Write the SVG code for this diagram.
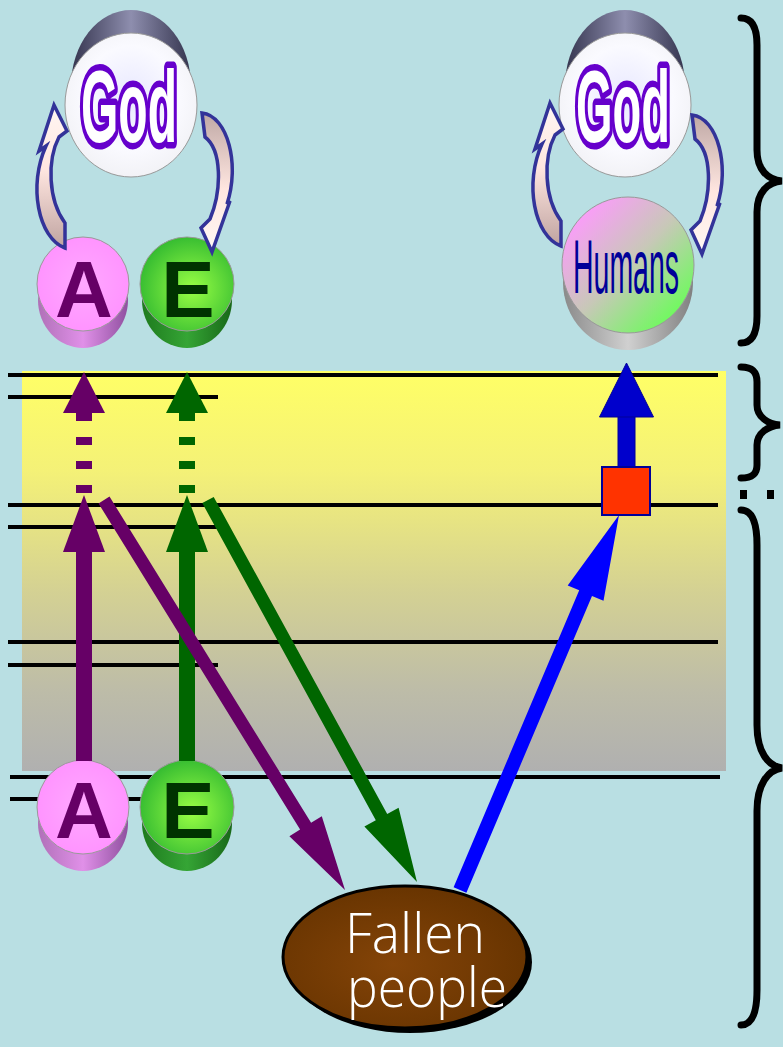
<svg xmlns="http://www.w3.org/2000/svg" width="783" height="1047" viewBox="0 0 783 1047">
<defs>
<style>
.staff{stroke:#000;stroke-width:4;fill:none}
.pur{fill:#660066}
.grn{fill:#006600}
.blu{fill:#0000FF}
.bluv{fill:#0000CC;stroke:#000099;stroke-width:1}
.cyc{stroke:#333399;stroke-width:3.5;stroke-linejoin:miter}
.god{font-family:"Liberation Sans Narrow","Liberation Sans",sans-serif;font-weight:bold;font-size:102px;fill:#fff;stroke:#6600CC;stroke-width:13;paint-order:stroke;stroke-linejoin:round}
.letter{font-family:"Liberation Sans",Arial,sans-serif;font-weight:bold;font-size:80px;text-anchor:middle}
.brace{fill:none;stroke:#000;stroke-width:7;stroke-linecap:round}
.face{stroke:#999;stroke-width:1}
</style>
<linearGradient id="gBand" x1="0" y1="371" x2="0" y2="771" gradientUnits="userSpaceOnUse">
<stop offset="0" stop-color="#FFFF66"/>
<stop offset="0.25" stop-color="#F4F177"/>
<stop offset="0.55" stop-color="#D4D193"/>
<stop offset="0.8" stop-color="#BDBCA8"/>
<stop offset="1" stop-color="#B0B0B0"/>
</linearGradient>
<linearGradient id="gCap" x1="0" y1="0" x2="1" y2="0">
<stop offset="0" stop-color="#34344E"/>
<stop offset="0.5" stop-color="#8E8EAE"/>
<stop offset="1" stop-color="#34344E"/>
</linearGradient>
<radialGradient id="gWhite" cx="0.5" cy="0.45" r="0.6">
<stop offset="0" stop-color="#E8E8FF"/>
<stop offset="0.6" stop-color="#FAFAFF"/>
<stop offset="1" stop-color="#F0F0F4"/>
</radialGradient>
<radialGradient id="gA" cx="0.5" cy="0.5" r="0.6">
<stop offset="0" stop-color="#FFA8FF"/>
<stop offset="1" stop-color="#FF90FF"/>
</radialGradient>
<linearGradient id="gAside" x1="0" y1="0" x2="1" y2="0">
<stop offset="0" stop-color="#B070B8"/>
<stop offset="0.5" stop-color="#E090E8"/>
<stop offset="1" stop-color="#9050A0"/>
</linearGradient>
<radialGradient id="gE" cx="0.55" cy="0.55" r="0.6">
<stop offset="0" stop-color="#99FF44"/>
<stop offset="1" stop-color="#30B830"/>
</radialGradient>
<linearGradient id="gEside" x1="0" y1="0" x2="1" y2="0">
<stop offset="0" stop-color="#1E7A1E"/>
<stop offset="0.5" stop-color="#35A535"/>
<stop offset="1" stop-color="#186818"/>
</linearGradient>
<linearGradient id="gHum" x1="0" y1="0" x2="1" y2="1">
<stop offset="0.1" stop-color="#FF99FF"/>
<stop offset="0.5" stop-color="#C8C8B8"/>
<stop offset="0.9" stop-color="#66FF55"/>
</linearGradient>
<linearGradient id="gHside" x1="0" y1="0" x2="1" y2="0">
<stop offset="0" stop-color="#8A8A8A"/>
<stop offset="0.5" stop-color="#D0D0D0"/>
<stop offset="1" stop-color="#808080"/>
</linearGradient>
<linearGradient id="gUp" x1="0" y1="0" x2="0" y2="1">
<stop offset="0" stop-color="#FFF6F2"/>
<stop offset="0.45" stop-color="#FFE6E0"/>
<stop offset="1" stop-color="#BFA3A0"/>
</linearGradient>
<linearGradient id="gDown" x1="0" y1="0" x2="0" y2="1">
<stop offset="0" stop-color="#BFA8A5"/>
<stop offset="0.55" stop-color="#FFE6E0"/>
<stop offset="1" stop-color="#FFF8F4"/>
</linearGradient>
<radialGradient id="gBrown" cx="0.45" cy="0.55" r="0.6">
<stop offset="0" stop-color="#844408"/>
<stop offset="1" stop-color="#663300"/>
</radialGradient>
<path id="cycUp" d="M65 223 L65 248 C38 238 28 185 46 146 L39 151 L54 105 L67 131 L59 137 C47 160 48 200 65 223 Z"/>
<path id="cycDown" d="M202 113 C228 116 240 165 227 204 L230 201 L212 252 L201 228 L210 219 C222 190 222 150 205 137 Z"/>
</defs>

<rect width="783" height="1047" fill="#B9DFE3"/>
<rect x="22" y="371" width="704" height="400" fill="url(#gBand)"/>

<g id="staff-lines">
<line class="staff" x1="8" y1="375" x2="718" y2="375"/>
<line class="staff" x1="8" y1="397" x2="218" y2="397"/>
<line class="staff" x1="8" y1="505" x2="718" y2="505"/>
<line class="staff" x1="8" y1="527" x2="218" y2="527"/>
<line class="staff" x1="8" y1="642" x2="718" y2="642"/>
<line class="staff" x1="8" y1="665" x2="218" y2="665"/>
<line class="staff" x1="10" y1="777" x2="720" y2="777"/>
<line class="staff" x1="10" y1="799" x2="220" y2="799"/>
</g>

<g id="node-god-left">
<ellipse cx="131" cy="86" rx="60" ry="76" fill="url(#gCap)"/>
<ellipse class="face" cx="131" cy="105" rx="66" ry="72" fill="url(#gWhite)"/>
<text class="god" x="81" y="142" textLength="96" lengthAdjust="spacingAndGlyphs">God</text>
</g>
<g id="node-god-right">
<ellipse cx="625" cy="86" rx="60" ry="76" fill="url(#gCap)"/>
<ellipse class="face" cx="625" cy="105" rx="66" ry="72" fill="url(#gWhite)"/>
<text class="god" x="576" y="142" textLength="94" lengthAdjust="spacingAndGlyphs">God</text>
</g>
<g id="node-a-top">
<ellipse cx="83" cy="300" rx="45" ry="48" fill="url(#gAside)"/>
<ellipse class="face" cx="83" cy="284" rx="46" ry="47" fill="url(#gA)"/>
<text class="letter" x="84" y="317" fill="#660066">A</text>
</g>
<g id="node-e-top">
<ellipse cx="187" cy="300" rx="45" ry="48" fill="url(#gEside)"/>
<ellipse class="face" cx="187" cy="284" rx="47" ry="47" fill="url(#gE)"/>
<text class="letter" x="188" y="317" fill="#003300">E</text>
</g>
<g id="node-humans">
<ellipse cx="628" cy="282" rx="65" ry="68" fill="url(#gHside)"/>
<ellipse class="face" cx="628" cy="265" rx="66" ry="68" fill="url(#gHum)"/>
<text x="573" y="293" textLength="106" lengthAdjust="spacingAndGlyphs" font-family="Liberation Sans Narrow, Liberation Sans, sans-serif" font-size="76" fill="#000099">Humans</text>
</g>
<g id="node-a-bottom">
<ellipse cx="83" cy="823" rx="45" ry="48" fill="url(#gAside)"/>
<ellipse class="face" cx="83" cy="807" rx="46" ry="47" fill="url(#gA)"/>
<text class="letter" x="84" y="838" fill="#660066">A</text>
</g>
<g id="node-e-bottom">
<ellipse cx="187" cy="823" rx="45" ry="48" fill="url(#gEside)"/>
<ellipse class="face" cx="187" cy="807" rx="47" ry="47" fill="url(#gE)"/>
<text class="letter" x="188" y="838" fill="#003300">E</text>
</g>

<g id="connectors">
<use href="#cycUp" class="cyc" fill="url(#gUp)"/>
<use href="#cycDown" class="cyc" fill="url(#gDown)"/>
<use href="#cycUp" class="cyc" fill="url(#gUp)" transform="translate(496,-2)"/>
<use href="#cycDown" class="cyc" fill="url(#gDown)" transform="translate(490,2)"/>
<rect class="pur" x="76" y="550" width="16" height="211"/>
<polygon class="pur" points="84,495 105,552 63,552"/>
<polygon class="pur" points="84,372 105,413 63,413"/>
<rect class="pur" x="76" y="412" width="16" height="9"/>
<rect class="pur" x="76" y="437" width="16" height="8"/>
<rect class="pur" x="76" y="461" width="16" height="8"/>
<rect class="pur" x="76" y="485" width="16" height="8"/>
<rect class="grn" x="179" y="550" width="16" height="211"/>
<polygon class="grn" points="187,495 208,552 166,552"/>
<polygon class="grn" points="187,372 208,413 166,413"/>
<rect class="grn" x="179" y="412" width="16" height="9"/>
<rect class="grn" x="179" y="437" width="16" height="8"/>
<rect class="grn" x="179" y="461" width="16" height="8"/>
<rect class="grn" x="179" y="485" width="16" height="8"/>
<polygon class="pur" points="98.5,503.4 300.1,829.6 289.4,836.2 345,890 321.8,816.2 311.1,822.8 109.5,496.6"/>
<polygon class="grn" points="202.3,503.1 375.8,820.2 364.4,826.5 417,882 398.6,807.7 387.2,814 213.7,496.9"/>
<polygon class="blu" points="453.6,887.2 579.2,590.3 567.7,585.4 619,515 603.5,600.8 592,595.9 466.4,892.8"/>
<rect class="bluv" x="618" y="414" width="17" height="54"/>
<polygon class="bluv" points="626.5,363 653.5,417 599.5,417"/>
</g>

<g id="node-step">
<rect x="602" y="467" width="48" height="48" fill="#FF3300" stroke="#000099" stroke-width="2"/>
</g>

<g id="node-fallen">
<ellipse cx="410" cy="962" rx="122" ry="71" fill="#000"/>
<ellipse cx="405" cy="957" rx="122" ry="71" fill="url(#gBrown)" stroke="#000" stroke-width="3"/>
<text x="345" y="953" textLength="140" lengthAdjust="spacingAndGlyphs" font-family="Open Sans, Lato, sans-serif" font-weight="300" font-size="55" fill="#fff">Fallen</text>
<text x="347" y="1007" textLength="160" lengthAdjust="spacingAndGlyphs" font-family="Open Sans, Lato, sans-serif" font-weight="300" font-size="55" fill="#fff">people</text>
</g>

<g id="braces">
<path class="brace" d="M741,18 C752,18 757,28 757,45 L757,150 C757,170 768,180 782,181 C768,182 757,192 757,212 L757,316 C757,333 752,343 741,343"/>
<path class="brace" d="M741,367 C752,367 757,372 757,382 L757,405 C757,417 768,424 780,425 C768,426 757,433 757,445 L757,465 C757,474 752,478 741,478"/>
<rect x="740" y="490" width="7" height="9" fill="#000"/>
<rect x="767" y="490" width="7" height="9" fill="#000"/>
<path class="brace" d="M741,510 C752,510 757,522 757,545 L757,725 C757,752 768,766 782,768 C768,770 757,784 757,811 L757,990 C757,1013 752,1025 741,1025"/>
</g>
</svg>
